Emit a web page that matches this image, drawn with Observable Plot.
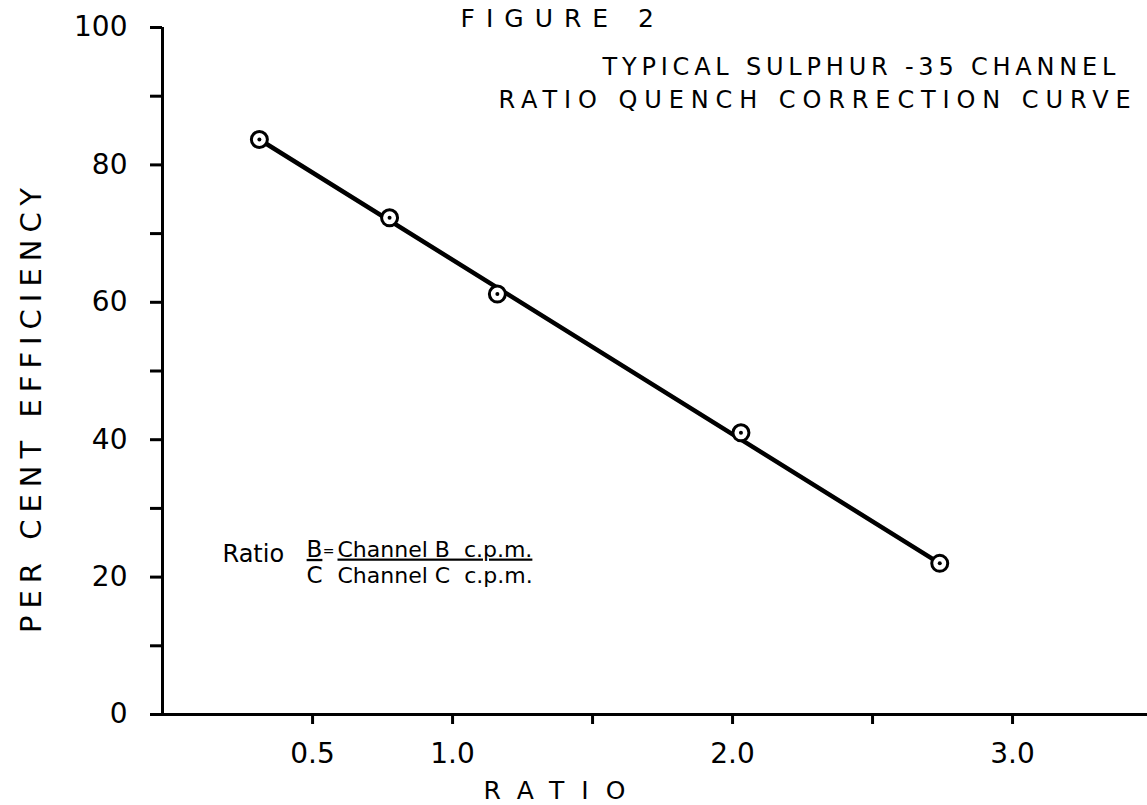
<!DOCTYPE html>
<html><head><meta charset="utf-8">
<script src="https://cdn.jsdelivr.net/npm/d3@7"></script>
<script src="https://cdn.jsdelivr.net/npm/@observablehq/plot@0.6"></script>
<style>body{margin:0;background:#fff;overflow:hidden} #chart svg{overflow:hidden}</style>
</head><body><div id="chart"></div>
<script>
// measured points (ratio B/C vs per cent efficiency)
const ratio = [0.31, 0.775, 1.16, 2.03, 2.74];
const efficiency = [83.7, 72.3, 61.2, 41, 22];
// hand-drawn straight correction line
const fitRatio = [0.31, 2.74];
const fitEfficiency = [83.7, 22];
// axes
const yTicks = [0, 10, 20, 30, 40, 50, 60, 70, 80, 90, 100];
const yTickLabels = [0, 20, 40, 60, 80, 100];
const xTicks = [0.5, 1, 1.5, 2, 2.5, 3];
const xTickLabels = ["0.5", "1.0", "", "2.0", "", "3.0"];
const xDomain = [-0.036, 3.482];
const yDomain = [0, 100];
// texts
const figureTitle = "FIGURE 2";
const titleLine1 = "TYPICAL SULPHUR -35 CHANNEL";
const titleLine2 = "RATIO QUENCH CORRECTION CURVE";
const yLabel = "PER CENT EFFICIENCY";
const xLabel = "RATIO";

const points = ratio.map((r, i) => ({ratio: r, eff: efficiency[i]}));
const fit = fitRatio.map((r, i) => ({ratio: r, eff: fitEfficiency[i]}));
const F = "DejaVu Sans";

const chart = Plot.plot({
  width: 1147, height: 805,
  marginLeft: 162, marginRight: 0, marginTop: 27, marginBottom: 91,
  style: {fontFamily: F, background: "#fff", color: "#000"},
  x: {domain: xDomain},
  y: {domain: yDomain},
  marks: [
    Plot.axisY({ticks: yTicks, tickSize: 12, strokeWidth: 3, tickPadding: 23, fontSize: 28,
      tickFormat: d => yTickLabels.includes(d) ? String(d) : "", label: null}),
    Plot.axisX({ticks: xTicks, tickSize: 10, strokeWidth: 3, tickPadding: 19, fontSize: 28,
      tickFormat: (d, i) => xTickLabels[xTicks.indexOf(d)], label: null}),
    Plot.ruleX([xDomain[0]], {strokeWidth: 3}),
    Plot.ruleY([yDomain[0]], {strokeWidth: 3}),
    Plot.line(fit, {x: "ratio", y: "eff", stroke: "#000", strokeWidth: 4.5}),
    Plot.dot(points, {x: "ratio", y: "eff", r: 8, fill: "#fff", stroke: "#000", strokeWidth: 3}),
    Plot.dot(points, {x: "ratio", y: "eff", r: 2, fill: "#000"}),
    Plot.text([figureTitle], {frameAnchor: "top-left", dx: 298, dy: -9, fontSize: 25, textAnchor: "start", lineAnchor: "middle", ariaDescription: "figtitle"}),
    Plot.text([titleLine1], {frameAnchor: "top-left", dx: 440, dy: 40, fontSize: 24, textAnchor: "start", lineAnchor: "middle", ariaDescription: "title1"}),
    Plot.text([titleLine2], {frameAnchor: "top-left", dx: 336, dy: 73, fontSize: 24, textAnchor: "start", lineAnchor: "middle", ariaDescription: "title2"}),
    Plot.text([yLabel], {frameAnchor: "left", rotate: -90, dx: -131, dy: 262, fontSize: 29, textAnchor: "start", lineAnchor: "middle", ariaDescription: "ylabel"}),
    Plot.text([xLabel], {frameAnchor: "bottom-left", dx: 321, dy: 76, fontSize: 25, textAnchor: "start", lineAnchor: "middle", ariaDescription: "xlabel"}),
    Plot.text(["Ratio"], {frameAnchor: "top-left", dx: 60, dy: 527, fontSize: 24, textAnchor: "start", lineAnchor: "middle"}),
    Plot.text(["B"], {frameAnchor: "top-left", dx: 152, dy: 522, fontSize: 23, textAnchor: "middle", lineAnchor: "middle", ariaDescription: "numerator"}),
    Plot.text(["="], {frameAnchor: "top-left", dx: 166, dy: 524, fontSize: 14, textAnchor: "middle", lineAnchor: "middle"}),
    Plot.text(["Channel B  c.p.m."], {frameAnchor: "top-left", dx: 175, dy: 522, fontSize: 22, textAnchor: "start", lineAnchor: "middle", ariaDescription: "numerator"}),
    Plot.text(["C"], {frameAnchor: "top-left", dx: 152, dy: 548, fontSize: 23, textAnchor: "middle", lineAnchor: "middle"}),
    Plot.text(["Channel C  c.p.m."], {frameAnchor: "top-left", dx: 175, dy: 548, fontSize: 22, textAnchor: "start", lineAnchor: "middle"})
  ]
});
const s = d3.select(chart);
const sp = (d, v) => s.selectAll(`[aria-description="${d}"] text`).attr("letter-spacing", v).style("letter-spacing", v);
sp("figtitle", "11px");
sp("title1", "4.8px");
sp("title2", "6.9px");
sp("ylabel", "7px");
sp("xlabel", "17px");
s.selectAll('[aria-description="numerator"] text').style("text-decoration", "underline").style("text-decoration-thickness", "2px");
document.getElementById("chart").appendChild(chart);
</script></body></html>
